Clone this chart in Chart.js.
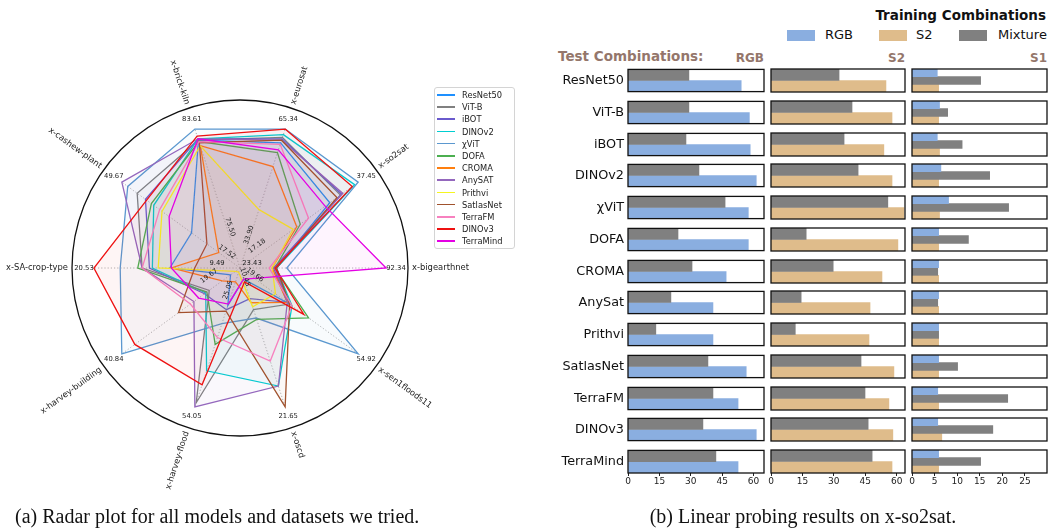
<!DOCTYPE html>
<html>
<head>
<meta charset="utf-8">
<script src="https://cdn.jsdelivr.net/npm/chart.js@4.4.1/dist/chart.umd.min.js"></script>
<style>
    body { margin: 0; background: #fff; font-family: "DejaVu Sans", sans-serif; }
    #page { position: relative; width: 1048px; height: 531px; overflow: hidden; }
    .abs { position: absolute; white-space: nowrap; }
    #radar-legend { left: 434px; top: 87px; width: 79px; height: 160px; border: 1px solid #d4d4d4; border-radius: 3px; background: rgba(255,255,255,0.85); }
    .leg-item { position: absolute; left: 2px; height: 12px; font-size: 8.3px; color: #222; line-height: 12px; }
    .leg-line { position: absolute; left: 0; top: 5px; width: 18px; height: 1.6px; }
    .leg-text { position: absolute; left: 25px; top: 0; }
    .head { font-weight: bold; color: #94766b; }
    .caption { font-family: "Liberation Serif", serif; font-size: 20px; color: #111; text-align: center; transform: scaleY(1.08); }
</style>
</head>
<body>
<div id="page">
    <canvas id="radar" class="abs" style="left:0;top:28px;width:480px;height:480px" width="480" height="480"></canvas>
    <div id="radar-legend" class="abs"></div>

    <div class="abs" style="right:2px;top:7px;font-size:13.5px;font-weight:bold;color:#111">Training Combinations</div>
    <div id="train-legend"></div>
    <div class="abs head" style="left:558px;top:48px;font-size:13.5px">Test Combinations:</div>
    <div id="col-heads"></div>
    <div id="bars"></div>

    <div class="abs caption" style="left:15px;width:400px;top:504px">(a) Radar plot for all models and datasets we tried.</div>
    <div class="abs caption" style="left:603px;width:400px;top:504px">(b) Linear probing results on x-so2sat.</div>
</div>
<script>
Chart.defaults.font.family = "'DejaVu Sans', sans-serif";

// ---- radar data (score relative to the best model on each dataset, 1 = axis max) ----
const axisNames = ['x-eurosat', 'x-so2sat', 'x-bigearthnet', 'x-sen1floods11', 'x-oscd',
    'x-harvey-flood', 'x-harvey-building', 'x-SA-crop-type', 'x-cashew-plant', 'x-brick-kiln'];
const axisMaxLabels = ['65.34', '37.45', '92.34', '54.92', '21.65', '54.05', '40.84', '20.53', '49.67', '83.61'];
const axisMinLabels = ['33.90', '17.18', '23.43', '19.66', '10.45', '25.05', '19.67', '9.49', '17.52', '75.50'];

const radarModels = ['ResNet50', 'ViT-B', 'iBOT', 'DINOv2', 'χViT', 'DOFA', 'CROMA', 'AnySAT',
    'Prithvi', 'SatlasNet', 'TerraFM', 'DINOv3', 'TerraMind'];
const resnet50 = [0.90, 0.76, 0.25, 0.42, 0.08, 0.27, 0.08, 0.48, 0.41, 0.92];
const vitB = [0.94, 0.85, 0.24, 0.42, 0.30, 0.97, 0.26, 0.67, 0.87, 0.92];
const ibot = [0.93, 0.86, 0.23, 0.40, 0.22, 0.30, 0.30, 0.62, 0.80, 0.93];
const dinov2 = [0.96, 0.97, 0.25, 0.44, 0.85, 0.74, 0.29, 0.60, 0.73, 0.93];
const chiVit = [1.00, 1.00, 0.32, 1.00, 0.36, 0.40, 1.00, 0.82, 0.95, 1.00];
const dofa = [0.83, 0.51, 0.24, 0.58, 0.37, 0.55, 0.28, 0.70, 0.75, 0.91];
const croma = [0.73, 0.48, 0.22, 0.40, 0.25, 0.10, 0.15, 0.47, 0.18, 0.88];
const anysat = [0.92, 0.87, 0.24, 0.40, 0.85, 1.00, 0.39, 0.67, 1.00, 0.93];
const prithvi = [0.42, 0.45, 0.22, 0.30, 0.28, 0.03, 0.04, 0.56, 0.66, 0.88];
const satlasnet = [0.92, 0.82, 0.25, 0.42, 1.00, 0.31, 0.52, 0.31, 0.28, 0.90];
const terrafm = [0.89, 0.58, 0.20, 0.44, 0.67, 0.50, 0.42, 0.67, 0.68, 0.91];
const dinov3 = [1.00, 0.95, 0.24, 0.54, 0.10, 0.84, 0.89, 1.00, 0.79, 0.95];
const terramind = [0.85, 0.72, 1.00, 0.12, 0.08, 0.26, 0.35, 0.47, 0.60, 0.93];
const radarSeries = [resnet50, vitB, ibot, dinov2, chiVit, dofa, croma, anysat,
    prithvi, satlasnet, terrafm, dinov3, terramind];

const radarColors = ['#1e90ff', '#808080', '#6a5acd', '#00ced1', '#5b98cf', '#4caf50', '#ff7f0e',
    '#9467bd', '#f5f520', '#a0522d', '#f781bf', '#ee1111', '#e400e4'];

// ---- bar data (x-so2sat linear probing) ----
const barModels = ['ResNet50', 'ViT-B', 'iBOT', 'DINOv2', 'χViT', 'DOFA', 'CROMA', 'AnySat',
    'Prithvi', 'SatlasNet', 'TerraFM', 'DINOv3', 'TerraMind'];
const rgbTestRgbTrain = [54.1, 58.0, 58.4, 61.3, 57.5, 57.5, 46.9, 40.6, 40.6, 56.5, 52.6, 61.3, 52.6];
const rgbTestMixTrain = [29.1, 29.1, 27.7, 33.9, 46.4, 23.9, 30.6, 20.5, 13.3, 38.2, 40.6, 35.8, 42.0];
const s2TestS2Train = [54.9, 57.8, 53.9, 57.8, 63.5, 60.6, 53.0, 47.3, 46.8, 58.7, 56.3, 58.2, 57.8];
const s2TestMixTrain = [32.5, 38.7, 34.9, 41.6, 55.8, 16.8, 29.7, 14.4, 11.6, 43.0, 44.9, 46.4, 48.3];
const s1TestRgbTrain = [5.6, 6.1, 5.6, 6.4, 8.1, 5.9, 5.9, 5.9, 5.9, 5.9, 5.7, 5.7, 5.9];
const s1TestMixTrain = [15.2, 7.9, 11.1, 17.2, 21.4, 12.5, 5.7, 5.7, 5.9, 10.1, 21.2, 17.9, 15.2];
const s1TestS2Train = [5.9, 5.9, 6.1, 5.9, 6.1, 5.9, 5.9, 5.9, 5.9, 5.9, 5.9, 6.6, 5.9];

const trainNames = ['RGB', 'S2', 'Mixture'];
const BLUE = '#8aaee0';
const TAN = '#dfbc8b';
const MIX = '#808080';

// pixel offsets of the inner (min) labels from the centre, same order as axisNames
const minLabelOffsets = [[9, -33], [17, -22], [12, -5], [15, 7], [5, 9],
    [-12, 22], [-31, 8], [-23, -5], [-13, -16], [-10, -41]];

const rotationFor = (angle) => (Math.cos(angle) > 0.01 ? angle : angle + Math.PI);

const radarDecor = {
    id: 'radarDecor',
    beforeDatasetsDraw(chart) {
        const scale = chart.scales.r;
        const ctx = chart.ctx;
        ctx.save();
        ctx.strokeStyle = '#a0a0a0';
        ctx.lineWidth = 0.8;
        ctx.setLineDash([1.2, 2]);
        axisNames.forEach((name, i) => {
            const p = scale.getPointPositionForValue(i, 1);
            ctx.beginPath();
            ctx.moveTo(scale.xCenter, scale.yCenter);
            ctx.lineTo(p.x, p.y);
            ctx.stroke();
        });
        ctx.restore();
    },
    afterDraw(chart) {
        const scale = chart.scales.r;
        const ctx = chart.ctx;
        const R = scale.drawingArea;
        ctx.save();

        ctx.strokeStyle = '#111';
        ctx.lineWidth = 1.3;
        ctx.beginPath();
        ctx.arc(scale.xCenter, scale.yCenter, R, 0, Math.PI * 2);
        ctx.stroke();

        ctx.fillStyle = '#222';
        ctx.textBaseline = 'middle';
        axisNames.forEach((name, i) => {
            const angle = scale.getPointPosition(i, R).angle;
            const right = Math.cos(angle) > 0.01;
            const p = scale.getPointPosition(i, R + 4);

            ctx.save();
            ctx.translate(p.x, p.y);
            ctx.rotate(rotationFor(angle));
            ctx.font = "8.4px 'DejaVu Sans'";
            ctx.textAlign = right ? 'left' : 'right';
            ctx.fillText(name, 0, 0);
            ctx.restore();

            const m = scale.getPointPosition(i, 156);
            ctx.font = "6.8px 'DejaVu Sans'";
            ctx.textAlign = 'center';
            ctx.fillText(axisMaxLabels[i], m.x, m.y);

            const [dx, dy] = minLabelOffsets[i];
            ctx.save();
            ctx.translate(scale.xCenter + dx, scale.yCenter + dy);
            ctx.rotate(rotationFor(angle));
            ctx.fillText(axisMinLabels[i], 0, 0);
            ctx.restore();
        });
        ctx.restore();
    },
};

const hexToRgba = (hex, a) => {
    const n = parseInt(hex.slice(1), 16);
    return `rgba(${(n >> 16) & 255},${(n >> 8) & 255},${n & 255},${a})`;
};

const renderRadar = () => {
    const canvas = document.getElementById('radar');

    new Chart(canvas, {
        type: 'radar',
        data: {
            labels: axisNames,
            datasets: radarModels.map((name, i) => ({
                label: name,
                data: radarSeries[i],
                borderColor: radarColors[i],
                backgroundColor: hexToRgba(radarColors[i], 0.045),
                borderWidth: 1.3,
                fill: true,
                order: radarModels.length - i,
            })),
        },
        options: {
            responsive: false,
            animation: false,
            layout: { padding: 72 },
            plugins: { legend: { display: false }, tooltip: { enabled: false } },
            elements: { point: { radius: 0 }, line: { tension: 0 } },
            scales: {
                r: {
                    min: 0,
                    max: 1.15,
                    startAngle: 18,
                    ticks: { display: false },
                    grid: { display: false },
                    angleLines: { display: false },
                    pointLabels: { display: false },
                },
            },
        },
        plugins: [radarDecor],
    });

    const legend = document.getElementById('radar-legend');
    radarModels.forEach((name, i) => {
        const item = document.createElement('div');
        item.className = 'leg-item';
        item.style.top = `${1 + i * 12.2}px`;

        const line = document.createElement('span');
        line.className = 'leg-line';
        line.style.background = radarColors[i];

        const text = document.createElement('span');
        text.className = 'leg-text';
        text.textContent = name;

        item.append(line, text);
        legend.appendChild(item);
    });
};

// ---- small bar panels ----
const cellBox = {
    id: 'cellBox',
    afterDatasetsDraw(chart) {
        const { ctx, chartArea: a } = chart;
        ctx.save();
        ctx.strokeStyle = '#111';
        ctx.lineWidth = 1.3;
        ctx.strokeRect(a.left, a.top, a.right - a.left, a.bottom - a.top);
        ctx.restore();
    },
};

const columns = [
    { head: 'RGB', left: 628, width: 136, max: 65, step: 15,
        series: [[rgbTestMixTrain, MIX], [rgbTestRgbTrain, BLUE]] },
    { head: 'S2', left: 771, width: 134, max: 64, step: 15,
        series: [[s2TestMixTrain, MIX], [s2TestS2Train, TAN]] },
    { head: 'S1', left: 912, width: 135, max: 29.9, step: 5,
        series: [[s1TestRgbTrain, BLUE], [s1TestMixTrain, MIX], [s1TestS2Train, TAN]] },
];

const ROW_TOP = 69;
const ROW_PITCH = 31.75;
const BOX_H = 23;
const LABEL_W = 70;
const PAD = 6;

const renderCell = (row, col) => {
    const isLast = row === barModels.length - 1;
    const hasLabel = col === columns[0];
    const top = Math.round(ROW_TOP + row * ROW_PITCH);
    // the label axis asks for half a text line above and below, so give it room
    const vPad = hasLabel ? 10 : 2;

    const canvas = document.createElement('canvas');
    canvas.className = 'abs';
    const w = col.width + PAD * 2 + (hasLabel ? LABEL_W : 0);
    const h = BOX_H + vPad * 2 + (isLast ? 14 : 0);
    canvas.width = w;
    canvas.height = h;
    canvas.style.width = `${w}px`;
    canvas.style.height = `${h}px`;
    canvas.style.left = `${col.left - PAD - (hasLabel ? LABEL_W : 0)}px`;
    canvas.style.top = `${top - vPad}px`;
    document.getElementById('bars').appendChild(canvas);

    new Chart(canvas, {
        type: 'bar',
        data: {
            labels: [barModels[row]],
            datasets: col.series.map(([values, color]) => ({
                data: [values[row]],
                backgroundColor: color,
                borderWidth: 0,
                categoryPercentage: 1,
                barPercentage: 1,
            })),
        },
        options: {
            indexAxis: 'y',
            responsive: false,
            animation: false,
            layout: { padding: { left: PAD, right: PAD, top: vPad, bottom: vPad } },
            plugins: { legend: { display: false }, tooltip: { enabled: false } },
            scales: {
                x: {
                    display: isLast,
                    min: 0,
                    max: col.max,
                    border: { display: false },
                    grid: { drawOnChartArea: false, drawTicks: true, tickLength: 3, color: '#222' },
                    ticks: { stepSize: col.step, includeBounds: false, padding: 0,
                        font: { size: 9 }, color: '#222', maxRotation: 0 },
                    afterFit: (scale) => { if (isLast) scale.height = 14; },
                },
                y: {
                    display: hasLabel,
                    border: { display: false },
                    grid: { display: false, drawTicks: false },
                    ticks: { padding: 4, font: { size: 12.8, lineHeight: 1 }, color: '#111' },
                    afterFit: (scale) => { if (hasLabel) scale.width = LABEL_W; },
                },
            },
        },
        plugins: [cellBox],
    });
};

const renderHeaders = () => {
    const heads = document.getElementById('col-heads');
    columns.forEach((col) => {
        const div = document.createElement('div');
        div.className = 'abs head';
        div.style.right = `${1048 - (col.left + col.width)}px`;
        div.style.top = '51px';
        div.style.fontSize = '12px';
        div.textContent = col.head;
        heads.appendChild(div);
    });

    // training-combination legend
    const legend = document.getElementById('train-legend');
    const swatches = [[787, 825, BLUE], [879, 916, TAN], [959, 998, MIX]];
    trainNames.forEach((name, i) => {
        const [sx, tx, color] = swatches[i];
        const sw = document.createElement('div');
        sw.className = 'abs';
        sw.style.cssText += `left:${sx}px;top:30px;width:28px;height:11px;background:${color}`;
        const label = document.createElement('div');
        label.className = 'abs';
        label.style.cssText += `left:${tx}px;top:27px;font-size:13px;color:#111`;
        label.textContent = name;
        legend.append(sw, label);
    });
};

renderRadar();
renderHeaders();
barModels.forEach((name, row) => columns.forEach((col) => renderCell(row, col)));
</script>
</body>
</html>
